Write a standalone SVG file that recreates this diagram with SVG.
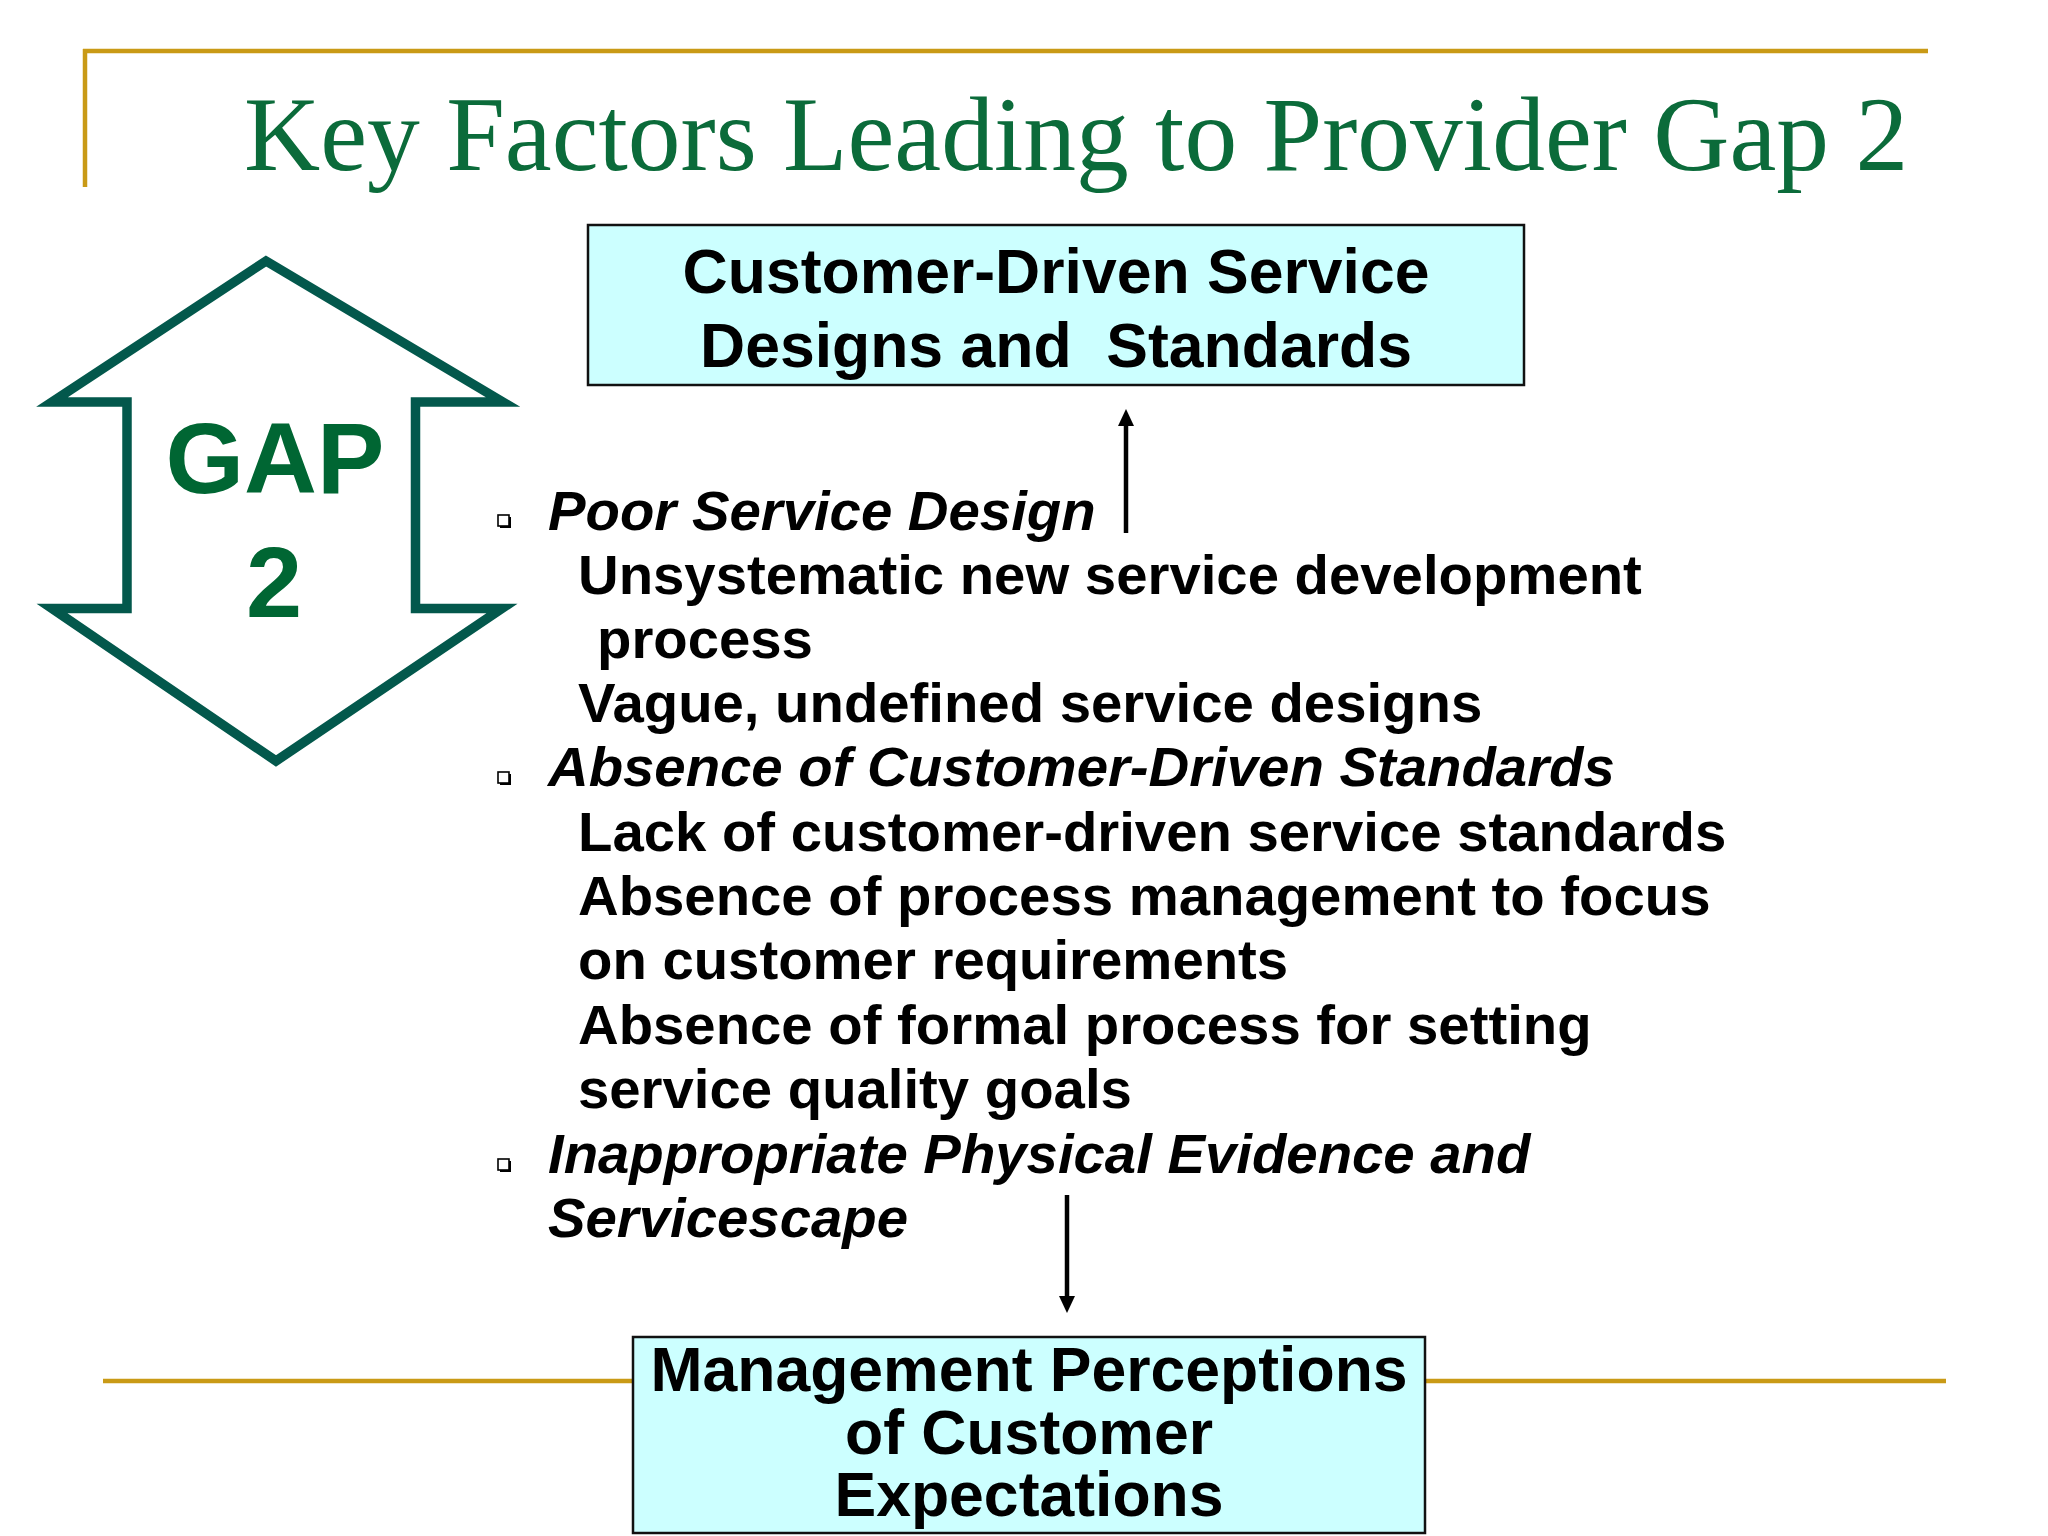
<svg xmlns="http://www.w3.org/2000/svg" width="2048" height="1536" viewBox="0 0 2048 1536">
  <style>
    .gold { stroke: #c99a16; stroke-width: 4.5; fill: none; }
    .title { font-family: "Liberation Serif", "Times New Roman", serif; font-size: 105.5px; fill: #0b6b3a; }
    .box { fill: #ccffff; stroke: #111111; stroke-width: 2.5; }
    .boxtext { font-family: "Liberation Sans", Arial, sans-serif; font-weight: bold; font-size: 62.5px; fill: #000000; text-anchor: middle; }
    .gaptext { font-family: "Liberation Sans", Arial, sans-serif; font-weight: bold; font-size: 101px; fill: #006633; text-anchor: middle; }
    .head { font-family: "Liberation Sans", Arial, sans-serif; font-weight: bold; font-style: italic; font-size: 56.3px; fill: #000000; }
    .item { font-family: "Liberation Sans", Arial, sans-serif; font-weight: bold; font-size: 56.3px; fill: #000000; }
    .conn { stroke: #000000; stroke-width: 4.5; fill: none; marker-end: url(#arrow); }
  </style>
  <defs>
    <marker id="arrow" viewBox="0 0 17 16" markerWidth="17" markerHeight="16" refX="5" refY="8" orient="auto" markerUnits="userSpaceOnUse">
      <path d="M0,0 L17,8 L0,16 z" fill="#000000"/>
    </marker>
    <g id="bullet">
      <rect x="2" y="2" width="11" height="11" fill="#000000"/>
      <rect x="0" y="0" width="11" height="11" fill="#ffffff" stroke="#000000" stroke-width="1.6"/>
    </g>
  </defs>

  <rect x="0" y="0" width="2048" height="1536" fill="#ffffff"/>

  <g id="frame">
    <line class="gold" x1="83" y1="51" x2="1928" y2="51"/>
    <line class="gold" x1="85" y1="49" x2="85" y2="187"/>
    <line class="gold" x1="103" y1="1381" x2="1946" y2="1381"/>
  </g>

  <g id="title">
    <text class="title" x="244" y="170">Key Factors Leading to Provider Gap 2</text>
  </g>

  <g id="gap2">
    <polygon points="266,261 503,402 415.5,402 415.5,608.5 502,608.5 276,761 52,608.5 127,608.5 127,402 52,402" fill="#ffffff" stroke="#03584c" stroke-width="9.5" stroke-linejoin="miter"/>
    <text class="gaptext" x="275" y="493">GAP</text>
    <text class="gaptext" x="274" y="617">2</text>
  </g>

  <g id="standards">
    <rect class="box" x="588" y="225" width="936" height="160"/>
    <text class="boxtext" x="1056" y="293">Customer-Driven Service</text>
    <text class="boxtext" x="1056" y="367" xml:space="preserve">Designs and  Standards</text>
  </g>

  <g id="perceptions">
    <rect class="box" x="633" y="1337" width="792" height="196"/>
    <text class="boxtext" x="1029" y="1391">Management Perceptions</text>
    <text class="boxtext" x="1029" y="1454">of Customer</text>
    <text class="boxtext" x="1029" y="1516">Expectations</text>
  </g>

  <g id="factors">
    <use href="#bullet" x="498" y="515"/>
    <text class="head" x="548" y="530">Poor Service Design</text>
    <text class="item" x="578" y="594">Unsystematic new service development</text>
    <text class="item" x="597" y="658">process</text>
    <text class="item" x="578" y="722">Vague, undefined service designs</text>
    <use href="#bullet" x="498" y="772"/>
    <text class="head" x="548" y="786">Absence of Customer-Driven Standards</text>
    <text class="item" x="578" y="851">Lack of customer-driven service standards</text>
    <text class="item" x="578" y="915">Absence of process management to focus</text>
    <text class="item" x="578" y="979">on customer requirements</text>
    <text class="item" x="578" y="1044">Absence of formal process for setting</text>
    <text class="item" x="578" y="1108">service quality goals</text>
    <use href="#bullet" x="498" y="1159"/>
    <text class="head" x="548" y="1173">Inappropriate Physical Evidence and</text>
    <text class="head" x="548" y="1237">Servicescape</text>
  </g>

  <g id="connectors">
    <line class="conn" x1="1126" y1="533" x2="1126" y2="421"/>
    <line class="conn" x1="1067" y1="1195" x2="1067" y2="1301"/>
  </g>
</svg>
